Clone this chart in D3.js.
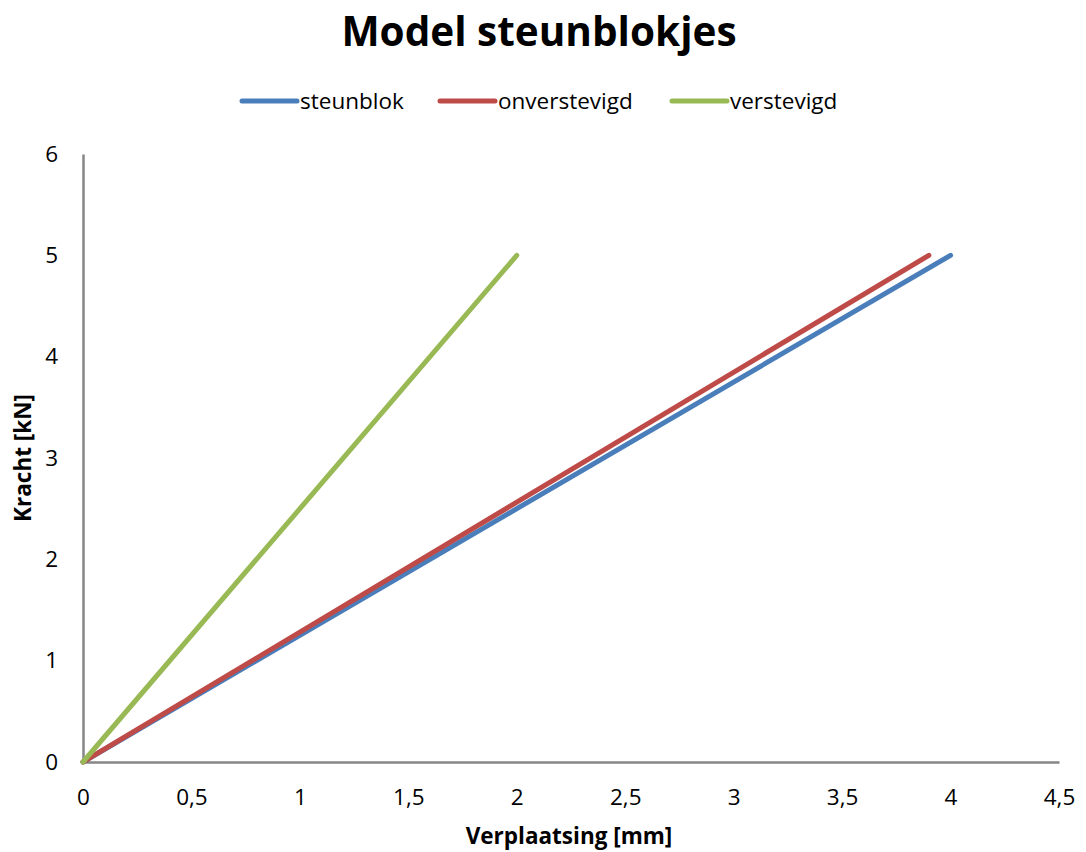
<!DOCTYPE html>
<html>
<head>
<meta charset="utf-8">
<script src="https://cdn.jsdelivr.net/npm/d3@7"></script>
<style>
  html, body { margin: 0; padding: 0; background: #fff; }
  svg { display: block; font-family: "Open Sans", "Liberation Sans", sans-serif; }
</style>
</head>
<body>
<svg id="chart" width="1086" height="852"></svg>
<script>
// Force versus displacement for the support block models
const seriesNames = ["steunblok", "onverstevigd", "verstevigd"];
const seriesColors = ["#4a7ebb", "#be4b48", "#98b954"];
const displacement = [
  [0, 4.0],
  [0, 3.9],
  [0, 2.0]
];
const force = [
  [0, 5],
  [0, 5],
  [0, 5]
];
const xTicks = [0, 0.5, 1, 1.5, 2, 2.5, 3, 3.5, 4, 4.5];
const yTicks = [0, 1, 2, 3, 4, 5, 6];

const svg = d3.select("#chart");
const margin = { left: 83, right: 1059, top: 154, bottom: 762 };

const x = d3.scaleLinear().domain([0, 4.5]).range([margin.left, margin.right]);
const y = d3.scaleLinear().domain([0, 6]).range([margin.bottom, margin.top]);

const fmt = d => String(d).replace(".", ",");

// Axes (no tick marks, grey lines)
const xAxis = svg.append("g")
  .attr("transform", `translate(0,${margin.bottom})`)
  .call(d3.axisBottom(x).tickValues(xTicks).tickSize(0).tickPadding(27).tickFormat(fmt));
const yAxis = svg.append("g")
  .attr("transform", `translate(${margin.left},0)`)
  .call(d3.axisLeft(y).tickValues(yTicks).tickSize(0).tickPadding(25).tickFormat(fmt));

[xAxis, yAxis].forEach(g => {
  g.select(".domain").attr("stroke", "#868686").attr("stroke-width", 2.5);
  g.selectAll("text").attr("fill", "#000").style("font-size", "22.5px")
    .style("font-family", "'Open Sans', sans-serif");
});

// Series lines
const line = d3.line().x(d => x(d[0])).y(d => y(d[1]));
seriesNames.forEach((name, i) => {
  const pts = displacement[i].map((dx, j) => [dx, force[i][j]]);
  svg.append("path")
    .datum(pts)
    .attr("d", line)
    .attr("fill", "none")
    .attr("stroke", seriesColors[i])
    .attr("stroke-width", 5)
    .attr("stroke-linecap", "round")
    .attr("stroke-linejoin", "round");
});

// Title
svg.append("text")
  .attr("x", 539).attr("y", 46)
  .attr("text-anchor", "middle")
  .style("font-size", "40.5px").style("font-weight", "bold")
  .text("Model steunblokjes");

// Axis titles
svg.append("text")
  .attr("x", 569).attr("y", 844)
  .attr("text-anchor", "middle")
  .style("font-size", "22.5px").style("font-weight", "bold")
  .text("Verplaatsing [mm]");
svg.append("text")
  .attr("transform", "translate(31,458) rotate(-90)")
  .attr("text-anchor", "middle")
  .style("font-size", "22.5px").style("font-weight", "bold")
  .text("Kracht [kN]");

// Legend
const legendX = [242, 440, 672];
const legend = svg.append("g");
seriesNames.forEach((name, i) => {
  const g = legend.append("g").attr("transform", `translate(${legendX[i]},101)`);
  g.append("line").attr("x1", 0).attr("x2", 55).attr("y1", 0).attr("y2", 0)
    .attr("stroke", seriesColors[i]).attr("stroke-width", 5).attr("stroke-linecap", "round");
  g.append("text").attr("x", 58).attr("y", 8)
    .style("font-size", "22.5px").text(name);
});
</script>
</body>
</html>
